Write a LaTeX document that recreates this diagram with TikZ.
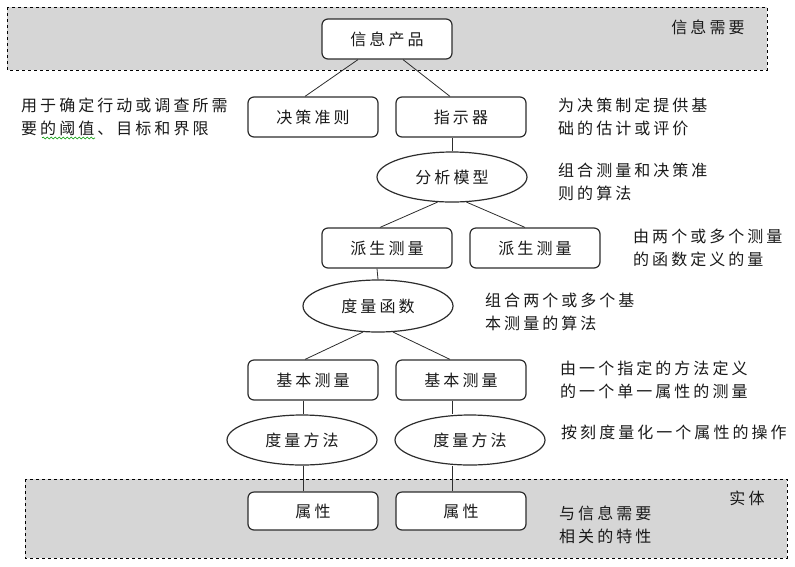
\documentclass[tikz,border=0pt]{standalone}
\usepackage{fontspec}
\newfontfamily\cjk[LetterSpace=19]{Noto Sans CJK SC}
\usepackage{tikz}
\usetikzlibrary{shapes.geometric, calc, decorations.pathmorphing}
\definecolor{bandgray}{RGB}{214,214,214}
\definecolor{inkgray}{RGB}{45,45,45}

\begin{document}
\begin{tikzpicture}[
    x=1pt, y=-1pt,
    font=\cjk\fontsize{16}{23}\selectfont,
    text=black!90,
    band/.style={draw=black, dashed, line width=1pt, fill=bandgray},
    item/.style={rectangle, rounded corners=6pt, draw=inkgray, line width=1.2pt, fill=white, minimum width=130pt, minimum height=40pt, inner sep=0pt},
    algo/.style={ellipse, draw=inkgray, line width=1.2pt, fill=white, minimum width=150pt, minimum height=50pt, inner sep=0pt},
    link/.style={draw=inkgray, line width=0.8pt},
    note/.style={anchor=west, align=left, inner sep=0pt}
]
    \useasboundingbox (0,0) rectangle (795,566);

    % bands
    \draw[band] (7,7) rectangle (767,70);
    \draw[band] (25,479) rectangle (787,558);
    \node (need) at (708,27) {信息需要};
    \node (entity) at (747,498) {实体};

    % nodes
    \node[item] (info) at (387,39) {信息产品};
    \node[item] (dec) at (313,117) {决策准则};
    \node[item] (ind) at (461,117) {指示器};
    \node[algo] (model) at (452,177) {分析模型};
    \node[item] (der1) at (387,248) {派生测量};
    \node[item] (der2) at (535,248) {派生测量};
    \node[algo, minimum height=52pt] (func) at (378,306) {度量函数};
    \node[item] (base1) at (313,380) {基本测量};
    \node[item] (base2) at (461,380) {基本测量};
    \node[algo] (meth1) at (302,440) {度量方法};
    \node[algo] (meth2) at (470,440) {度量方法};
    \node[item, minimum height=38pt] (attr1) at (313,511) {属性};
    \node[item, minimum height=38pt] (attr2) at (461,511) {属性};

    % links
    \draw[link] ([xshift=-29pt]info.south) -- ([xshift=-8pt]dec.north);
    \draw[link] ([xshift=16pt]info.south) -- ([xshift=-11pt]ind.north);
    \draw[link] ([xshift=-9pt]ind.south) -- (model.north);
    \draw[link] (model.240) -- ([xshift=-7pt]der1.north);
    \draw[link] (model.300) -- ([xshift=-10pt]der2.north);
    \draw[link] ([xshift=-10pt]der1.south) -- (func.north);
    \draw[link] (func.240) -- ([xshift=-8pt]base1.north);
    \draw[link] (func.300) -- ([xshift=-11pt]base2.north);
    \draw[link] ([xshift=-10pt]base1.south) -- ([xshift=1pt]meth1.north);
    \draw[link] ([xshift=-9pt]base2.south) -- ([xshift=-18pt]meth2.north);
    \draw[link] ([xshift=1pt]meth1.south) -- ([xshift=-10pt]attr1.north);
    \draw[link] ([xshift=-18pt]meth2.south) -- ([xshift=-9pt]attr2.north);

    % notes
    \node[note] (n1) at (21,116.5) {用于确定行动或调查所需\\要的阈值、目标和界限};
    \draw[green!60!black, line width=0.6pt, decorate, decoration={snake, amplitude=1pt, segment length=4pt}] (42,138) -- (95,138);
    \node[note] (n2) at (558,116.5) {为决策制定提供基\\础的估计或评价};
    \node[note] (n3) at (558,181.5) {组合测量和决策准\\则的算法};
    \node[note] (n4) at (633,247.5) {由两个或多个测量\\的函数定义的量};
    \node[note] (n5) at (485,312) {组合两个或多个基\\本测量的算法};
    \node[note] (n6) at (560,380) {由一个指定的方法定义\\的一个单一属性的测量};
    \node[note] (n7) at (561,432) {按刻度量化一个属性的操作};
    \node[note] (n8) at (559,524.5) {与信息需要\\相关的特性};
\end{tikzpicture}
\end{document}
